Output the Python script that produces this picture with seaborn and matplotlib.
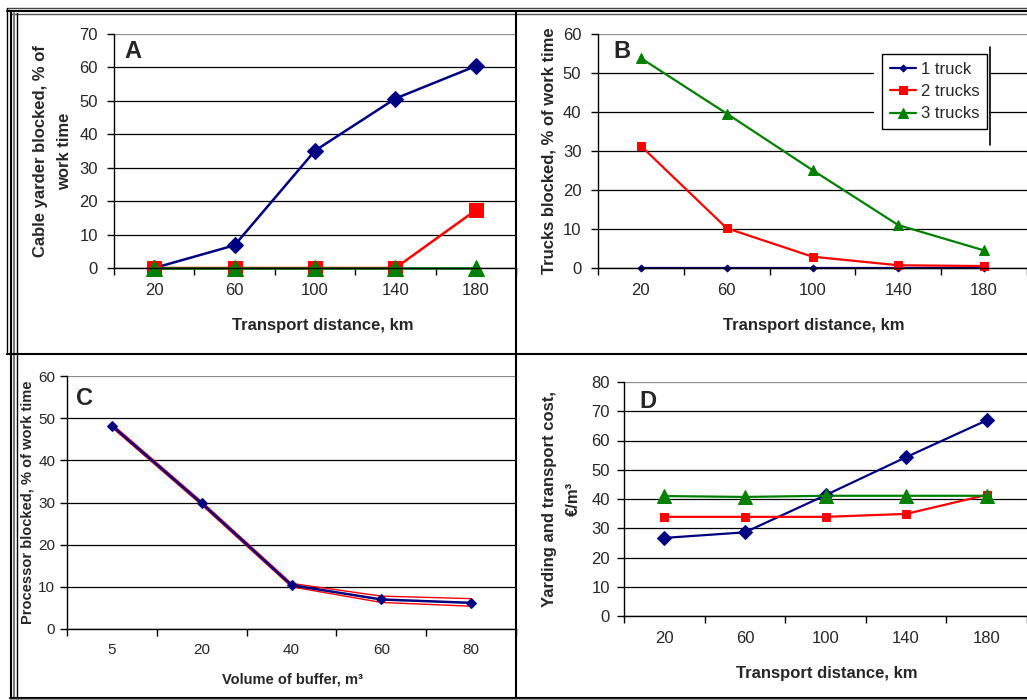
import numpy as np
import matplotlib
matplotlib.use("Agg")
import matplotlib.pyplot as plt
import seaborn as sns
from matplotlib.lines import Line2D
from matplotlib.patches import Rectangle
from matplotlib import font_manager

# ---- data ----
distance = ["20", "60", "100", "140", "180"]
buffer_volume = ["5", "20", "40", "60", "80"]
truck_labels = ["1 truck", "2 trucks", "3 trucks"]

# A: cable yarder blocked, % of work time
yarder_1 = [0, 6.8, 35.1, 50.7, 60.4]
yarder_2 = [0, 0, 0, 0, 17.3]
yarder_3 = [0, 0, 0, 0, 0]

# B: trucks blocked, % of work time
trucks_1 = [0, 0, 0, 0, 0]
trucks_2 = [31.3, 10.2, 2.9, 0.7, 0.5]
trucks_3 = [53.8, 39.6, 25.1, 11.0, 4.5]

# C: processor blocked, % of work time (mean with upper / lower band)
processor = [48.2, 29.8, 10.4, 7.0, 6.2]
processor_hi = [48.6, 30.2, 10.8, 7.8, 7.2]
processor_lo = [47.8, 29.4, 10.0, 6.3, 5.4]

# D: yarding and transport cost, EUR/m3
cost_1 = [26.7, 28.6, 41.3, 54.3, 66.9]
cost_2 = [33.9, 33.9, 33.9, 34.9, 41.4]
cost_3 = [41.0, 40.7, 41.1, 41.1, 41.1]

NAVY, RED, GREEN = "#000080", "#ff0000", "#008000"

sns.set_style("ticks")
plt.rcParams["font.family"] = ["Liberation Sans", "DejaVu Sans"]
names = {f.name for f in font_manager.fontManager.ttflist}
narrow = "Liberation Sans Narrow" if "Liberation Sans Narrow" in names else "Liberation Sans"

W, H = 1027, 700
fig = plt.figure(figsize=(W / 100, H / 100), dpi=100)


def make_axes(L, T, R, B):
    return fig.add_axes([L / W, 1 - B / H, (R - L) / W, (B - T) / H])


def style_axes(ax, labels, ymax, spacing, L, R, fs, xpad, ypad):
    ax.set_xlim(-0.5, -0.5 + (R - L) / spacing)
    ax.set_ylim(0, ymax)
    ax.set_yticks(np.arange(0, ymax + 1, 10))
    ax.set_xticks(range(len(labels)))
    ax.set_xticklabels(labels)
    ax.set_xticks(np.arange(-0.5, len(labels), 1), minor=True)
    ax.tick_params(axis="x", which="major", length=0, pad=xpad, labelsize=fs)
    ax.tick_params(axis="x", which="minor", length=5, width=1, direction="out", color="black")
    ax.tick_params(axis="y", length=5, width=1, direction="out", pad=ypad, labelsize=fs, color="black")
    ax.grid(axis="y", color="black", lw=0.9)
    ax.set_axisbelow(True)
    ax.get_ygridlines()[-1].set_color("#8c8c8c")
    for s in ["top", "right"]:
        ax.spines[s].set_visible(False)
    for s in ["left", "bottom"]:
        ax.spines[s].set_color("black")
        ax.spines[s].set_linewidth(1)
    ax.set_facecolor("none")


def draw(ax, vals, color, marker, ms, lw, label=None):
    sns.lineplot(x=list(range(len(vals))), y=vals, ax=ax, color=color, marker=marker,
                 markersize=ms, markeredgecolor=color, linewidth=lw, clip_on=False,
                 label=label, legend=False)


# ---- panel A ----
axA = make_axes(114, 34, 516, 268)
draw(axA, yarder_1, NAVY, "D", 8, 1.8)
draw(axA, yarder_2, RED, "s", 9.5, 1.8)
draw(axA, yarder_3, GREEN, "^", 11, 1.8)
style_axes(axA, distance, 70, 84, 114, 516, 12, 11, 6.5)
axA.set_xlabel("Transport distance, km", fontsize=12, fontweight="bold")
axA.xaxis.set_label_coords((323 - 114) / 402, (268 - 318) / 234)
axA.set_ylabel("Cable yarder blocked, % of\nwork time", fontsize=12, fontweight="bold",
               linespacing=1.75)
axA.yaxis.set_label_coords((72 - 114) / 402, 0.5)
fig.text(124 / W, 1 - 52 / H, "A", fontsize=17, fontweight="bold", va="center")

# ---- panel B ----
axB = make_axes(598, 34, 1027, 268)
draw(axB, trucks_1, NAVY, "D", 3.5, 1.6, truck_labels[0])
draw(axB, trucks_2, RED, "s", 6, 1.6, truck_labels[1])
draw(axB, trucks_3, GREEN, "^", 7, 1.6, truck_labels[2])
style_axes(axB, distance, 60, 87, 598, 1027, 12, 11, 7)
axB.set_xlabel("Transport distance, km", fontsize=12, fontweight="bold")
axB.xaxis.set_label_coords((814 - 598) / 429, (268 - 318) / 234)
axB.set_ylabel("Trucks blocked, % of work time", fontsize=12, fontweight="bold")
axB.yaxis.set_label_coords((556 - 598) / 429, 0.5)
fig.text(613 / W, 1 - 52 / H, "B", fontsize=17, fontweight="bold", va="center")
axB.add_patch(Rectangle((874 / W, 1 - 145 / H), 115 / W, 98 / H, transform=fig.transFigure,
                        facecolor="white", edgecolor="none", zorder=1))
leg = axB.legend(loc="upper left", bbox_to_anchor=(882 / W, 1 - 54 / H),
                 bbox_transform=fig.transFigure, fontsize=12, frameon=True, fancybox=False,
                 framealpha=1, edgecolor="black", borderaxespad=0, handlelength=1.6,
                 handletextpad=0.3, labelspacing=0.45, borderpad=0.45)
leg.get_frame().set_linewidth(1)
fig.add_artist(Line2D([989.5 / W, 989.5 / W], [1 - 47 / H, 1 - 145 / H], color="black", lw=1.2))

# ---- panel C ----
axC = make_axes(67, 376, 516, 629)
draw(axC, processor_hi, RED, None, 0, 1.0)
draw(axC, processor_lo, RED, None, 0, 1.0)
draw(axC, processor, NAVY, "D", 5, 1.8)
style_axes(axC, buffer_volume, 60, 90.2, 67, 516, 11, 10, 3.5)
axC.set_xlabel("Volume of buffer, m\u00b3", fontsize=10.5, fontweight="bold", family=narrow)
axC.xaxis.set_label_coords((292 - 67) / 449, (629 - 673) / 253)
axC.set_ylabel("Processor blocked, % of work time", fontsize=10.5, fontweight="bold")
axC.yaxis.set_label_coords((35 - 67) / 449, 0.5)
fig.text(76 / W, 1 - 398 / H, "C", fontsize=17, fontweight="bold", va="center")

# ---- panel D ----
axD = make_axes(624, 382, 1027, 616)
draw(axD, cost_1, NAVY, "D", 7, 1.6)
draw(axD, cost_2, RED, "s", 5.5, 1.6)
draw(axD, cost_3, GREEN, "^", 9.5, 1.6)
style_axes(axD, distance, 80, 81.8, 624, 1027, 12, 11, 5)
axD.set_xlabel("Transport distance, km", fontsize=12, fontweight="bold")
axD.xaxis.set_label_coords((827 - 624) / 403, (616 - 666) / 234)
axD.set_ylabel("Yarding and transport cost,\n\u20ac/m\u00b3", fontsize=12, fontweight="bold",
               linespacing=1.75)
axD.yaxis.set_label_coords((581 - 624) / 403, 0.5)
fig.text(639 / W, 1 - 402 / H, "D", fontsize=17, fontweight="bold", va="center")

# ---- table-like panel borders ----
def hline(y, x0, x1, color="black", lw=1.2):
    fig.add_artist(Line2D([x0 / W, x1 / W], [1 - y / H, 1 - y / H], color=color, lw=lw))


def vline(x, y0, y1, color="black", lw=1.2):
    fig.add_artist(Line2D([x / W, x / W], [1 - y0 / H, 1 - y1 / H], color=color, lw=lw))


hline(8, 7, W, "#444444", 1.0)
hline(11, 7, W, "black", 1.5)
hline(13.5, 10, W, "#555555", 1.0)
vline(7, 8, 354, "black", 1.0)
vline(10.5, 11, 699, "black", 1.5)
vline(13.5, 13, 699, "#777777", 1.5)
vline(16.5, 13, 699, "black", 1.0)
vline(516, 11, 699, "black", 1.5)
hline(354, 7, W, "black", 1.5)
hline(697.5, 10, W, "black", 1.5)
hline(699.3, 10, W, "#999999", 1.0)

fig.savefig("out.png", dpi=100)
